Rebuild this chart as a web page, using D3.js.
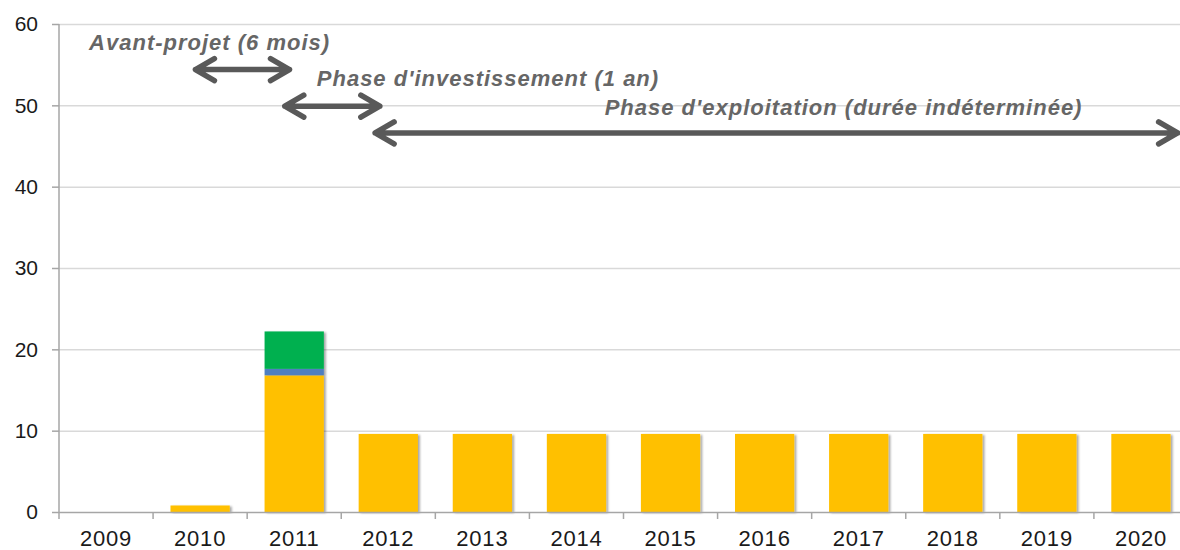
<!DOCTYPE html>
<html>
<head>
<meta charset="utf-8">
<script src="https://cdn.jsdelivr.net/npm/d3@7"></script>
<style>
  body { margin: 0; background: #fff; }
  text { font-family: "Liberation Sans", Arial, sans-serif; }
</style>
</head>
<body>
<div id="chart"></div>
<script>
// donnees
var years = ["2009","2010","2011","2012","2013","2014","2015","2016","2017","2018","2019","2020"];
var yellowVals = [0, 0.8, 16.8, 9.6, 9.6, 9.6, 9.6, 9.6, 9.6, 9.6, 9.6, 9.6];
var blueVals   = [0, 0, 0.8, 0, 0, 0, 0, 0, 0, 0, 0, 0];
var greenVals  = [0, 0, 4.6, 0, 0, 0, 0, 0, 0, 0, 0, 0];
var yTicks = [0, 10, 20, 30, 40, 50, 60];

// phases (annees fractionnaires) et leurs libelles
var phaseLabels = ["Avant-projet (6 mois)", "Phase d'investissement (1 an)", "Phase d'exploitation (durée indéterminée)"];
var phaseStart = [2009.95, 2010.9, 2011.86];
var phaseEnd   = [2010.95, 2011.91, 2020.39];
var phaseLevel = [54.4, 49.9, 46.6];
var labelStart = [2008.82, 2011.24, 2014.3];
var labelLevel = [56.8, 52.4, 48.8];

var width = 1180, height = 550;
var margin = {left: 59, right: -8, top: 24, bottom: 38};

var svg = d3.select("#chart").append("svg")
    .attr("width", width)
    .attr("height", height);

var defs = svg.append("defs");
defs.append("filter").attr("id", "shadow")
    .attr("x", "-10%").attr("y", "-10%").attr("width", "130%").attr("height", "130%")
  .append("feDropShadow")
    .attr("dx", 2).attr("dy", 1).attr("stdDeviation", 1.2)
    .attr("flood-color", "#000").attr("flood-opacity", 0.35);

var x = d3.scaleBand()
    .domain(years)
    .range([margin.left, width - margin.right])
    .paddingInner(0.37)
    .paddingOuter(0.185);

var xl = d3.scaleLinear()
    .domain([2008.5, 2020.5])
    .range([margin.left, width - margin.right]);

var y = d3.scaleLinear()
    .domain([0, 60])
    .range([height - margin.bottom, margin.top]);

// grille
svg.append("g").selectAll("line")
    .data(yTicks.filter(function(d){ return d > 0; }))
    .enter().append("line")
    .attr("x1", margin.left).attr("x2", width)
    .attr("y1", function(d){ return y(d) + 0.5; })
    .attr("y2", function(d){ return y(d) + 0.5; })
    .style("stroke", "#d9d9d9")
    .style("stroke-width", 1.5);

// axe y
var yAxis = svg.append("g")
    .attr("transform", "translate(" + margin.left + ",0)")
    .call(d3.axisLeft(y).tickValues(yTicks).tickSize(7).tickPadding(14));
yAxis.selectAll("text").style("font-size", "21px").style("fill", "#1a1a1a");
yAxis.selectAll("line, path").style("stroke", "#a6a6a6").style("stroke-width", 1.5);
yAxis.select(".domain").attr("d", "M0," + y(60) + "V" + (y(0) + 7));

// barres empilees
var stack = years.map(function(yr, i){
    return [
        {y0: 0, y1: yellowVals[i], c: "#ffc000"},
        {y0: yellowVals[i], y1: yellowVals[i] + blueVals[i], c: "#4f7fc0"},
        {y0: yellowVals[i] + blueVals[i], y1: yellowVals[i] + blueVals[i] + greenVals[i], c: "#00b050"}
    ];
});

var groups = svg.append("g").selectAll("g")
    .data(years)
    .enter().append("g")
    .attr("filter", "url(#shadow)");

groups.selectAll("rect")
    .data(function(d, i){ return stack[i].filter(function(s){ return s.y1 > s.y0; }).map(function(s){ s.yr = d; return s; }); })
    .enter().append("rect")
    .attr("x", function(d){ return x(d.yr); })
    .attr("width", x.bandwidth())
    .attr("y", function(d){ return y(d.y1); })
    .attr("height", function(d){ return y(d.y0) - y(d.y1); })
    .style("fill", function(d){ return d.c; });

// axe x
var step = x.step();
svg.append("line")
    .attr("x1", margin.left).attr("x2", width)
    .attr("y1", y(0) + 0.5).attr("y2", y(0) + 0.5)
    .style("stroke", "#a6a6a6").style("stroke-width", 1.5);

svg.append("g").selectAll("line")
    .data(years.slice(1))
    .enter().append("line")
    .attr("x1", function(d){ return x(d) + x.bandwidth() / 2 - step / 2; })
    .attr("x2", function(d){ return x(d) + x.bandwidth() / 2 - step / 2; })
    .attr("y1", y(0)).attr("y2", y(0) + 7)
    .style("stroke", "#a6a6a6").style("stroke-width", 1.5);

svg.append("g").selectAll("text")
    .data(years)
    .enter().append("text")
    .attr("x", function(d){ return x(d) + x.bandwidth() / 2; })
    .attr("y", height - 4)
    .attr("text-anchor", "middle")
    .style("font-size", "22px")
    .style("letter-spacing", "0.8px")
    .style("fill", "#1a1a1a")
    .text(function(d){ return d; });

// fleches des phases
var head = 19, half = 11;
svg.append("g").selectAll("path")
    .data(phaseLabels)
    .enter().append("path")
    .attr("d", function(d, i){
        var x0 = xl(phaseStart[i]), x1 = xl(phaseEnd[i]), yy = y(phaseLevel[i]);
        return "M" + x0 + "," + yy + "H" + x1 +
            "M" + (x0 + head) + "," + (yy - half) + "L" + x0 + "," + yy + "L" + (x0 + head) + "," + (yy + half) +
            "M" + (x1 - head) + "," + (yy - half) + "L" + x1 + "," + yy + "L" + (x1 - head) + "," + (yy + half);
    })
    .style("fill", "none")
    .style("stroke", "#595959")
    .style("stroke-width", 5.5)
    .style("stroke-linecap", "round")
    .style("stroke-linejoin", "round");

svg.append("g").selectAll("text")
    .data(phaseLabels)
    .enter().append("text")
    .attr("x", function(d, i){ return xl(labelStart[i]); })
    .attr("y", function(d, i){ return y(labelLevel[i]); })
    .style("font-size", "22px")
    .style("letter-spacing", "1px")
    .style("font-weight", "bold")
    .style("font-style", "italic")
    .style("fill", "#666666")
    .text(function(d){ return d; });
</script>
</body>
</html>
